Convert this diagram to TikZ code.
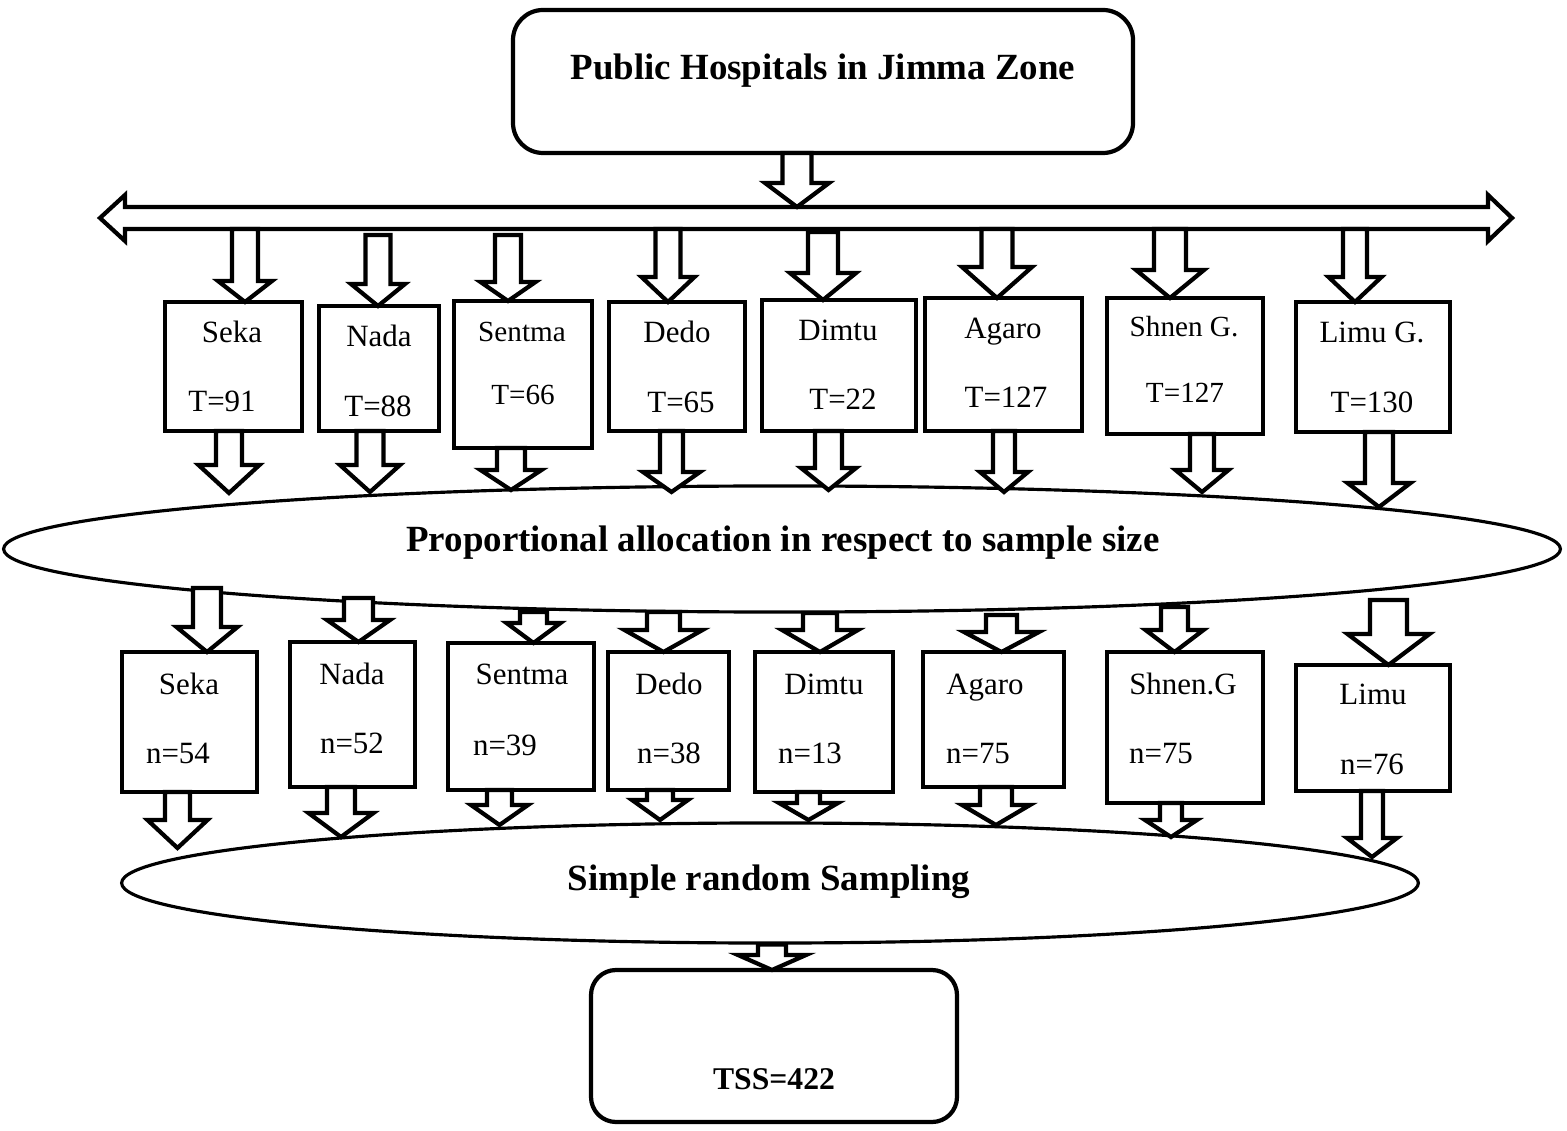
\documentclass[tikz,border=0pt]{standalone}
\usepackage{fontspec}
\setmainfont{Liberation Serif}
\usetikzlibrary{calc, fit, shapes.geometric}

\tikzset{
  hosp/.style={draw, line width=1.2pt, fill=white, inner sep=0pt, outer sep=0pt},
  hbox/.style={hosp, rounded corners=0.3cm},
  oval/.style={draw, ellipse, line width=0.9pt, inner sep=0pt},
  fat/.style={draw, fill=white, line width=1.2pt},
  txt/.style={anchor=base, inner sep=0pt, font=\fontsize{8.8}{10}\selectfont},
  stxt/.style={txt, font=\fontsize{8.3}{10}\selectfont},
  head/.style={anchor=base, inner sep=0pt, font=\fontsize{10.5}{12}\selectfont\bfseries},
}

% block arrow: [shaft half width]{start}{tip}{head half width}{head length}
\newcommand{\fatarrow}[5][13]{%
  \coordinate (tip) at (#3);
  \coordinate (tipr) at ($(tip)+(#1,0)$);
  \coordinate (tipl) at ($(tip)+(-#1,0)$);
  \draw[fat] (tip) -- ++(#4,-#5) -- ++(#1-#4,0) -- (tipr |- #2)
    -- (tipl |- #2) -- ($(tipl)+(0,-#5)$) -- ++(#1-#4,0) -- cycle;
}

\begin{document}
\begin{tikzpicture}[x=0.01cm, y=-0.01cm]
  \useasboundingbox (0,0) rectangle (1567,1131);
  % Top box
  \node[hbox, fit={(513,10) (1133,153)}] (top) {};
  \node[head] (topt) at (823,80) {Public Hospitals in Jimma Zone};
  % Double arrow bar
  \draw[fat] (100,218) -- (125,195) -- (125,207) -- (1488,207) -- (1488,195) -- (1512,218)
    -- (1488,241) -- (1488,229) -- (125,229) -- (125,241) -- cycle;
  \coordinate (bartop) at (806,207);
  \coordinate (bar) at (806,229);
  \fatarrow[14.5]{top.south}{797,0 |- bartop}{32}{24}

  % Hospitals, T
  \node[hosp, fit={(165,302) (302,431)}] (seka1) {};
  \node[hosp, fit={(319,306) (439,431)}] (nada1) {};
  \node[hosp, fit={(454,301) (592,448)}] (sentma1) {};
  \node[hosp, fit={(609,302) (745,431)}] (dedo1) {};
  \node[hosp, fit={(762,300) (916,431)}] (dimtu1) {};
  \node[hosp, fit={(925,298) (1082,431)}] (agaro1) {};
  \node[hosp, fit={(1107,298) (1263,434)}] (shnen1) {};
  \node[hosp, fit={(1296,302) (1450,432)}] (limu1) {};
  \node[txt] (seka1n) at (232,343) {Seka};
  \node[txt] (seka1t) at (222,412) {T=91};
  \node[txt] (nada1n) at (379,347) {Nada};
  \node[txt] (nada1t) at (378,417) {T=88};
  \node[stxt] (sentma1n) at (522,342) {Sentma};
  \node[stxt] (sentma1t) at (523,405) {T=66};
  \node[txt] (dedo1n) at (677,343) {Dedo};
  \node[txt] (dedo1t) at (681,413) {T=65};
  \node[txt] (dimtu1n) at (838,341) {Dimtu};
  \node[txt] (dimtu1t) at (843,410) {T=22};
  \node[txt] (agaro1n) at (1003,339) {Agaro};
  \node[txt] (agaro1t) at (1006,408) {T=127};
  \node[stxt] (shnen1n) at (1184,337) {Shnen G.};
  \node[stxt] (shnen1t) at (1185,403) {T=127};
  \node[txt] (limu1n) at (1372,343) {Limu G.};
  \node[txt] (limu1t) at (1372,413) {T=130};

  % Proportional allocation
  \node[oval, minimum width=15.56cm, minimum height=1.26cm] (prop) at (782,549) {};
  \node[head] (propt) at (783,552) {Proportional allocation in respect to sample size};

  % Hospitals, n
  \node[hosp, fit={(122,652) (257,792)}] (seka2) {};
  \node[hosp, fit={(290,642) (415,787)}] (nada2) {};
  \node[hosp, fit={(448,643) (594,790)}] (sentma2) {};
  \node[hosp, fit={(608,652) (729,790)}] (dedo2) {};
  \node[hosp, fit={(755,652) (893,792)}] (dimtu2) {};
  \node[hosp, fit={(923,652) (1064,787)}] (agaro2) {};
  \node[hosp, fit={(1107,652) (1263,803)}] (shnen2) {};
  \node[hosp, fit={(1296,665) (1450,791)}] (limu2) {};
  \node[txt] (seka2n) at (189,694) {Seka};
  \node[txt] (seka2t) at (178,763) {n=54};
  \node[txt] (nada2n) at (352,684) {Nada};
  \node[txt] (nada2t) at (352,753) {n=52};
  \node[txt] (sentma2n) at (522,685) {Sentma};
  \node[txt] (sentma2t) at (505,755) {n=39};
  \node[txt] (dedo2n) at (669,694) {Dedo};
  \node[txt] (dedo2t) at (669,763) {n=38};
  \node[txt] (dimtu2n) at (824,694) {Dimtu};
  \node[txt] (dimtu2t) at (810,763) {n=13};
  \node[txt] (agaro2n) at (985,694) {Agaro};
  \node[txt] (agaro2t) at (978,763) {n=75};
  \node[txt] (shnen2n) at (1183,694) {Shnen.G};
  \node[txt] (shnen2t) at (1161,763) {n=75};
  \node[txt] (limu2n) at (1373,705) {Limu};
  \node[txt] (limu2t) at (1372,774) {n=76};

  % Simple random sampling
  \node[oval, minimum width=12.96cm, minimum height=1.2cm] (srs) at (770,883) {};
  \node[head] (srst) at (769,890) {Simple random Sampling};

  % Total
  \node[hbox, rounded corners=0.25cm, fit={(591,970) (957,1122)}] (tss) {};
  \node[head, font=\fontsize{9}{11}\selectfont\bfseries] (tsst) at (774,1089) {TSS=422};

  % bar -> T boxes
  \fatarrow{bar}{245,0 |- seka1.north}{27}{21}
  \fatarrow[12.5]{0,235}{378,0 |- nada1.north}{27}{22}
  \fatarrow{0,235}{508,0 |- sentma1.north}{27.5}{19}
  \fatarrow[12.5]{bar}{668,0 |- dedo1.north}{26.5}{25}
  \fatarrow[15]{0,232}{823,0 |- dimtu1.north}{33}{27}
  \fatarrow[15.5]{bar}{997,0 |- agaro1.north}{35}{31}
  \fatarrow[16]{bar}{1170,0 |- shnen1.north}{34}{28}
  \fatarrow[12]{bar}{1355,0 |- limu1.north}{26.5}{25}
  % T boxes -> allocation
  \fatarrow{seka1.south}{229,493}{30.5}{28}
  \fatarrow[13.5]{nada1.south}{370,492}{30}{27}
  \fatarrow[14]{sentma1.south}{511,490}{30.5}{20}
  \fatarrow[11.5]{dedo1.south}{671.5,492}{28.5}{20}
  \fatarrow[13.5]{dimtu1.south}{828.5,490}{27.5}{22}
  \fatarrow[11]{agaro1.south}{1004,492}{24}{20}
  \fatarrow[12]{shnen1.south}{1202,492}{26.5}{22}
  \fatarrow[14]{limu1.south}{1379,507}{31.5}{24}
  % allocation -> n boxes
  \fatarrow[14]{0,588}{207,0 |- seka2.north}{30.5}{25}
  \fatarrow[14.5]{0,598}{358.5,0 |- nada2.north}{31.5}{22}
  \fatarrow[13.5]{0,612}{533.5,0 |- sentma2.north}{27}{20}
  \fatarrow[16.5]{0,612}{663.5,0 |- dedo2.north}{39}{22}
  \fatarrow[17]{0,613}{820,0 |- dimtu2.north}{38}{22}
  \fatarrow[15.5]{0,615}{1001.5,0 |- agaro2.north}{37.5}{20}
  \fatarrow[13.5]{0,607}{1174.5,0 |- shnen2.north}{29}{22}
  \fatarrow[18.5]{0,600}{1388.5,0 |- limu2.north}{41}{31}
  % n boxes -> sampling
  \fatarrow[12.5]{seka2.south}{177.5,848}{30}{28}
  \fatarrow[14]{nada2.south}{341,837}{32.5}{24}
  \fatarrow[12.5]{sentma2.south}{499.5,825}{28.5}{20}
  \fatarrow[13]{dedo2.south}{660,820}{28}{20}
  \fatarrow[11.5]{dimtu2.south}{808.5,820}{29.5}{17}
  \fatarrow[16]{agaro2.south}{996,825}{34}{20}
  \fatarrow[11]{shnen2.south}{1171,837}{26}{17}
  \fatarrow[11]{limu2.south}{1372,857}{25}{19}
  % sampling -> total
  \fatarrow[14]{srs.south}{772,0 |- tss.north}{34}{15}
\end{tikzpicture}
\end{document}
